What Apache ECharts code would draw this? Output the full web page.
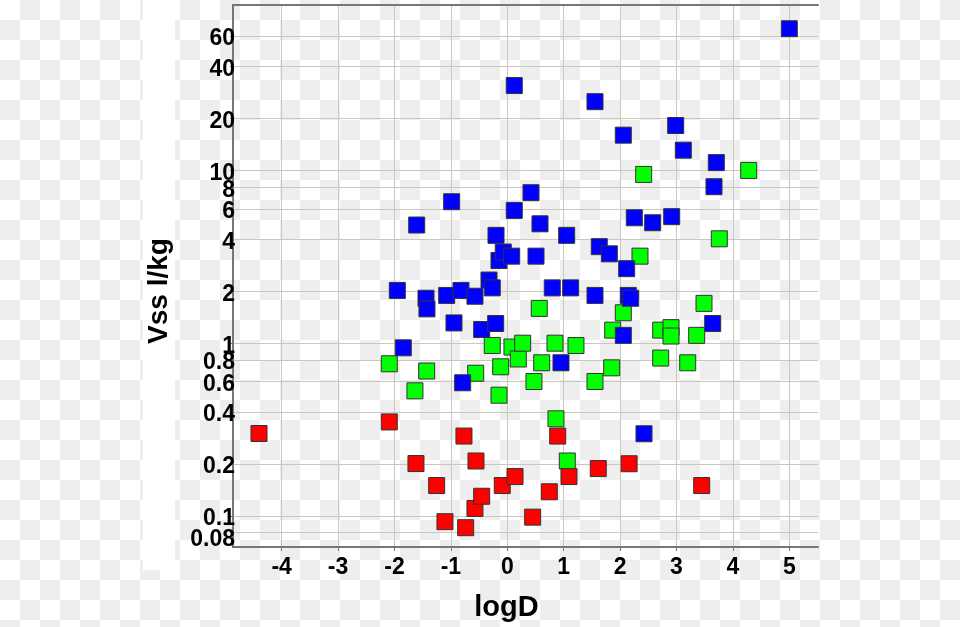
<!DOCTYPE html>
<html><head><meta charset="utf-8">
<script src="https://cdn.jsdelivr.net/npm/echarts@6/dist/echarts.min.js"></script>
<style>
html,body{margin:0;padding:0;width:960px;height:627px;overflow:hidden;
background: repeating-conic-gradient(#eeeeee 0 25%, #ffffff 0 50%) 0 0/40px 40px;}
#strip{position:absolute;left:143px;top:0;width:32px;height:570px;background:#fff;}
#chart{position:absolute;left:0;top:0;width:960px;height:627px;}
</style></head><body>
<div id="strip"></div>
<div id="chart"></div>
<script>
// ---- data ----
const xTicks = [-4, -3, -2, -1, 0, 1, 2, 3, 4, 5];
// listed so that the two outermost labels are not neighbours (keeps 0.08 and 0.1 both visible)
const yTickLabels = [0.2, 0.08, 0.1, 0.4, 0.6, 0.8, 1, 2, 4, 6, 8, 10, 20, 40, 60];
const xRange = [-4.863, 5.509];
const yRange = [0.0661, 90.7];

const blueLogD = [-1.95, -1.844, -1.606, -1.441, -1.424, -1.074, -0.986, -0.945, -0.821, -0.791,
  -0.573, -0.454, -0.324, -0.266, -0.2, -0.206, -0.147, -0.071, 0.078, 0.124,
  0.124, 0.42, 0.509, 0.58, 0.798, 0.952, 1.053, 1.124, 1.555, 1.555,
  1.631, 1.809, 2.057, 2.057, 2.117, 2.145, 2.188, 2.252, 2.424, 2.578,
  2.915, 2.986, 3.121, 3.642, 3.665, 3.706, 5.0];
const blueVss = [2.02, 0.94, 4.83, 1.82, 1.58, 1.89, 6.59, 1.31, 2.02, 0.59,
  1.87, 1.20, 2.32, 2.09, 4.21, 1.30, 3.01, 3.37, 3.19, 31.0,
  5.87, 7.43, 3.19, 4.91, 2.09, 0.77, 4.21, 2.09, 1.89, 25.0,
  3.62, 3.29, 16.0, 1.11, 2.70, 1.89, 1.82, 5.32, 0.299, 4.98,
  5.40, 18.2, 13.1, 1.30, 8.05, 11.1, 66.1];

const greenLogD = [-2.092, -1.637, -1.429, -0.56, -0.266, -0.147, -0.117, 0.083, 0.195, 0.273,
  0.473, 0.567, 0.61, 0.846, 0.863, 1.064, 1.218, 1.555, 1.851, 1.869,
  2.057, 2.353, 2.418, 2.72, 2.72, 2.903, 2.903, 3.199, 3.358, 3.488,
  3.759, 4.28];
const greenVss = [0.76, 0.53, 0.69, 0.67, 0.97, 0.50, 0.73, 0.95, 0.81, 1.0,
  0.60, 1.59, 0.77, 1.0, 0.365, 0.208, 0.97, 0.60, 0.72, 1.19,
  1.50, 3.19, 9.48, 1.19, 0.82, 1.23, 1.10, 0.77, 1.11, 1.70,
  4.02, 10.0];

const redLogD = [-4.402, -2.092, -1.619, -1.252, -1.105, -0.768, -0.738, -0.573, -0.555, -0.454,
  -0.089, 0.137, 0.45, 0.745, 0.894, 1.094, 1.613, 2.16, 3.447];
const redVss = [0.30, 0.35, 0.201, 0.150, 0.0926, 0.29, 0.0855, 0.1105, 0.208, 0.130,
  0.150, 0.169, 0.0984, 0.138, 0.29, 0.169, 0.188, 0.2005, 0.150];

// ---- chart ----
const lg = v => Math.log10(v);
const pts = (xs, ys) => xs.map((x, i) => [x, lg(ys[i])]);
const yTickLogs = yTickLabels.map(lg);
const fmtY = v => {
  const t = yTickLabels.find(t => Math.abs(lg(t) - v) < 1e-6);
  if (t === undefined) return '';
  return t === 0.08 ? '{low|0.08}' : String(t);
};

const gridColor = '#c9c7bf';
const axisColor = '#777777';
const font = '"Liberation Sans", Arial, Helvetica, sans-serif';

function sq(name, color, data) {
  return {
    name, type: 'scatter', data,
    symbol: 'rect', symbolSize: 16,
    itemStyle: { color, borderColor: '#333333', borderWidth: 1, opacity: 1 },
    emphasis: { disabled: true },
    silent: true
  };
}

const chart = echarts.init(document.getElementById('chart'), null, { renderer: 'canvas' });
chart.setOption({
  animation: false,
  backgroundColor: 'transparent',
  grid: { left: 233, right: 142, top: 5, bottom: 80, containLabel: false },
  xAxis: [{
    type: 'value', min: xRange[0], max: xRange[1],
    name: 'logD', nameLocation: 'middle', nameGap: 46,
    nameTextStyle: { fontFamily: font, fontSize: 29, fontWeight: 'bold', color: '#000', padding: [0, 38, 0, 0] },
    axisLine: { show: true, onZero: false, lineStyle: { color: axisColor, width: 2 } },
    axisTick: { show: true, length: 4, customValues: xTicks, lineStyle: { color: axisColor, width: 1 } },
    axisLabel: { customValues: xTicks, margin: 9, showMinLabel: true, showMaxLabel: true, hideOverlap: false,
      fontFamily: font, fontSize: 23, fontWeight: 'bold', color: '#000' },
    splitLine: { show: true, lineStyle: { color: gridColor, width: 1 } }
  }, {
    type: 'value', position: 'top', min: xRange[0], max: xRange[1],
    axisLine: { show: true, onZero: false, lineStyle: { color: axisColor, width: 2 } },
    axisTick: { show: false }, axisLabel: { show: false }, splitLine: { show: false }
  }],
  yAxis: {
    type: 'value', min: lg(yRange[0]), max: lg(yRange[1]),
    name: 'Vss l/kg', nameLocation: 'middle', nameGap: 60, nameRotate: 90,
    nameTextStyle: { fontFamily: font, fontSize: 28, fontWeight: 'bold', color: '#000', padding: [0, 30, 0, 0] },
    axisLine: { show: true, onZero: false, lineStyle: { color: axisColor, width: 2 } },
    axisTick: { show: true, length: 3, customValues: yTickLogs, lineStyle: { color: axisColor, width: 1 } },
    axisLabel: {
      customValues: yTickLogs, formatter: fmtY, margin: -2,
      showMinLabel: true, showMaxLabel: true, hideOverlap: false,
      verticalAlign: 'top', lineHeight: 6,
      fontFamily: font, fontSize: 23, fontWeight: 'bold', color: '#000',
      rich: { low: { fontFamily: font, fontSize: 23, fontWeight: 'bold', color: '#000', lineHeight: 14 } }
    },
    splitLine: { show: true, lineStyle: { color: gridColor, width: 1 } }
  },
  series: [
    sq('green', '#00ff00', pts(greenLogD, greenVss)),
    sq('red', '#ff0000', pts(redLogD, redVss)),
    sq('blue', '#0000ff', pts(blueLogD, blueVss))
  ]
});
</script>
</body></html>
